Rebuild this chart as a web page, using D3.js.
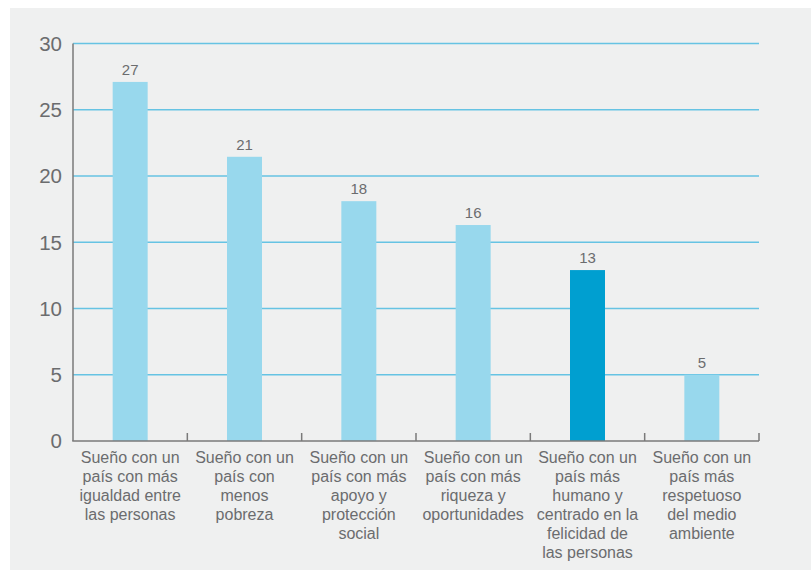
<!DOCTYPE html>
<html>
<head>
<meta charset="utf-8">
<script src="https://cdn.jsdelivr.net/npm/d3@7"></script>
<style>
  body { margin: 0; background: #fff; }
  svg { display: block; font-family: "Liberation Sans", Arial, Helvetica, sans-serif; }
</style>
</head>
<body>
<div id="chart"></div>
<script>
const categories = [
  ['Sueño con un', 'país con más', 'igualdad entre', 'las personas'],
  ['Sueño con un', 'país con', 'menos', 'pobreza'],
  ['Sueño con un', 'país con más', 'apoyo y', 'protección', 'social'],
  ['Sueño con un', 'país con más', 'riqueza y', 'oportunidades'],
  ['Sueño con un', 'país más', 'humano y', 'centrado en la', 'felicidad de', 'las personas'],
  ['Sueño con un', 'país más', 'respetuoso', 'del medio', 'ambiente']
];
const values = [27.1, 21.45, 18.1, 16.3, 12.9, 5.0];
const highlighted = [false, false, false, false, true, false];
const yTicks = [0, 5, 10, 15, 20, 25, 30];

const width = 811;
const height = 570;
const lightBar = '#98d8ed';
const darkBar = '#009fd0';
const gridColour = '#66c3e3';
const axisColour = '#7a7a7a';
const textColour = '#6b6c6e';

const svg = d3.select('#chart').append('svg')
  .attr('width', width)
  .attr('height', height);

svg.append('rect')
  .attr('x', 10)
  .attr('y', 8)
  .attr('width', width - 10)
  .attr('height', height - 8)
  .attr('fill', '#eff0f0');

const x = d3.scaleBand()
  .domain(d3.range(categories.length))
  .range([73, 759])
  .paddingInner(0)
  .paddingOuter(0);

const y = d3.scaleLinear()
  .domain([0, 30])
  .range([441, 43.5]);

// gridlines
svg.append('g')
  .selectAll('line')
  .data(yTicks.filter(d => d > 0))
  .enter()
  .append('line')
  .attr('x1', 73)
  .attr('x2', 759)
  .attr('y1', d => y(d))
  .attr('y2', d => y(d))
  .attr('stroke', gridColour)
  .attr('stroke-width', 1.5);

// y axis labels
svg.append('g')
  .selectAll('text')
  .data(yTicks)
  .enter()
  .append('text')
  .attr('x', 62)
  .attr('y', d => y(d))
  .attr('dy', '0.36em')
  .attr('text-anchor', 'end')
  .attr('font-size', 20.5)
  .attr('fill', textColour)
  .text(d => d);

const barWidth = 35;

svg.append('g')
  .selectAll('rect')
  .data(values)
  .enter()
  .append('rect')
  .attr('x', (d, i) => x(i) + x.bandwidth() / 2 - barWidth / 2)
  .attr('y', d => y(d))
  .attr('width', barWidth)
  .attr('height', d => y(0) - y(d))
  .attr('fill', (d, i) => highlighted[i] ? darkBar : lightBar);

const fmt = d3.format('.0f');
svg.append('g')
  .selectAll('text')
  .data(values)
  .enter()
  .append('text')
  .attr('x', (d, i) => x(i) + x.bandwidth() / 2)
  .attr('y', d => y(d) - 7)
  .attr('text-anchor', 'middle')
  .attr('font-size', 15)
  .attr('fill', textColour)
  .text(d => fmt(d));

// axes lines
svg.append('line')
  .attr('x1', 73).attr('x2', 73)
  .attr('y1', y(30)).attr('y2', y(0))
  .attr('stroke', axisColour)
  .attr('stroke-width', 1.5);

svg.append('line')
  .attr('x1', 72.25).attr('x2', 759)
  .attr('y1', y(0)).attr('y2', y(0))
  .attr('stroke', axisColour)
  .attr('stroke-width', 1.5);

svg.append('g')
  .selectAll('line')
  .data(d3.range(1, categories.length + 1))
  .enter()
  .append('line')
  .attr('x1', i => x.step() * i + 73)
  .attr('x2', i => x.step() * i + 73)
  .attr('y1', y(0))
  .attr('y2', y(0) - 8)
  .attr('stroke', axisColour)
  .attr('stroke-width', 1.5);

// category labels
const cat = svg.append('g')
  .selectAll('text')
  .data(categories)
  .enter()
  .append('text')
  .attr('text-anchor', 'middle')
  .attr('font-size', 16)
  .attr('fill', textColour);

cat.selectAll('tspan')
  .data((d, i) => d.map(line => ({ line, i })))
  .enter()
  .append('tspan')
  .attr('x', d => x(d.i) + x.bandwidth() / 2)
  .attr('y', (d, j) => 462.5 + j * 19)
  .text(d => d.line);
</script>
</body>
</html>
